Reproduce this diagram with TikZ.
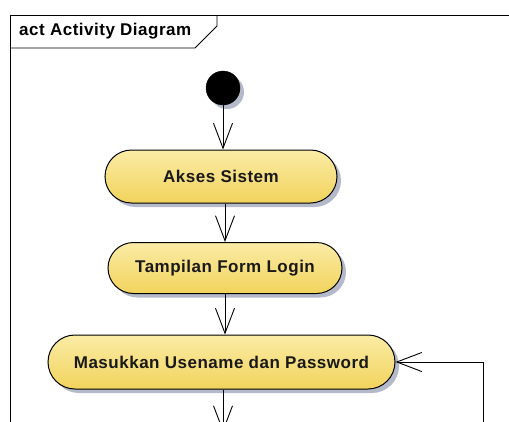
\documentclass[tikz,border=0pt]{standalone}
\usepackage{fontspec}
\setmainfont{Liberation Sans}
\newfontfamily\eafont[LetterSpace=3]{Liberation Sans}
\usetikzlibrary{shapes.misc, arrows.meta, shadows, fadings}

\definecolor{actTop}{RGB}{251,236,166}
\definecolor{actBot}{RGB}{241,211,92}
\definecolor{shade}{RGB}{172,178,196}

\tikzset{
  flow/.style={draw, line width=0.9pt,
    -{Straight Barb[length=25pt, width=19pt, line width=0.9pt]}},
  softshadow/.style={drop shadow={shadow xshift=4pt, shadow yshift=-4pt,
    fill=shade, opacity=0.9}},
  actbox/.style={rounded rectangle, draw, line width=1pt,
    top color=actTop, bottom color=actBot, softshadow,
    font=\eafont\bfseries\fontsize{17}{19}\selectfont, text=black!90,
    inner sep=0pt},
  startnode/.style={circle, fill=black, draw=black, minimum size=34pt,
    inner sep=0pt, softshadow},
}

\begin{document}
\begin{tikzpicture}[x=1pt, y=-1pt]
\useasboundingbox (0,0) rectangle (509,421);
\clip (0,0) rectangle (509,421);

% diagram frame with its name tab
\draw[line width=0.8pt] (10,440) -- (10,15) -- (520,15);
\draw[line width=0.8pt] (10,48) -- (195,48) -- (217,26) -- (217,15);
\node[anchor=west, font=\eafont\bfseries\fontsize{17}{19}\selectfont, inner sep=0pt]
  (title) at (19,31.5) {act Activity Diagram};

% nodes
\node[startnode] (start) at (223,88) {};
\node[actbox, minimum width=232pt, minimum height=53pt] (akses) at (221,176.5) {Akses Sistem};
\node[actbox, minimum width=234pt, minimum height=51pt] (tampil) at (225,268) {Tampilan Form Login};
\node[actbox, minimum width=347pt, minimum height=54pt] (masuk) at (221.5,362) {Masukkan Usename dan Password};

\coordinate (down) at (223,432);
\coordinate (loopfoot) at (483,440);

% connectors
\draw[flow] (start.south -| 223,0) -- (akses.north -| 223,0);
\draw[flow] (akses.south -| 225,0) -- (tampil.north -| 225,0);
\draw[flow] (tampil.south -| 225,0) -- (masuk.north -| 225,0);
\draw[flow] (masuk.south -| down) -- (down);
\draw[flow] (loopfoot) |- (masuk.east);
\end{tikzpicture}
\end{document}
